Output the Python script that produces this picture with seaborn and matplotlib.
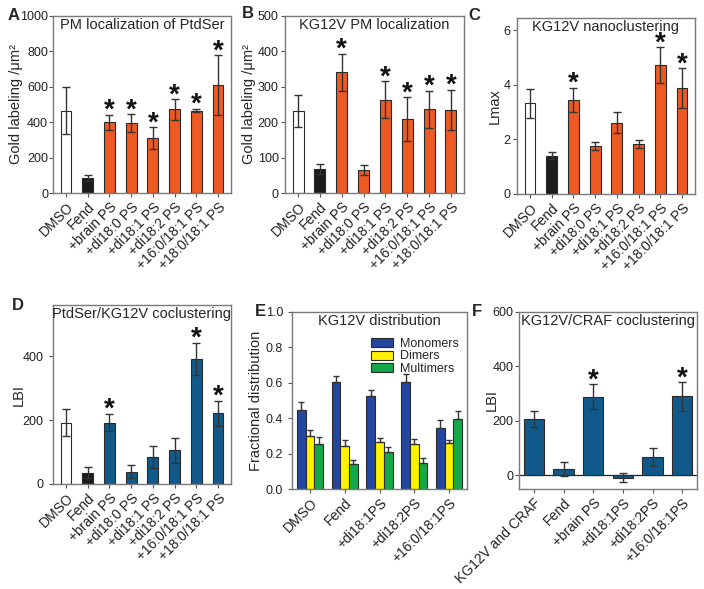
import numpy as np
import pandas as pd
import matplotlib
matplotlib.use("Agg")
import matplotlib.pyplot as plt
import seaborn as sns

# ---- data ----
ps_labels = ["DMSO", "Fend", "+brain PS", "+di18:0 PS", "+di18:1 PS",
             "+di18:2 PS", "+16:0/18:1 PS", "+18:0/18:1 PS"]

a_mean = [466, 85, 400, 394, 309, 472, 466, 611]
a_err = [135, 18, 43, 50, 63, 57, 11, 168]
a_sig = [0, 0, 1, 1, 1, 1, 1, 1]

b_mean = [231, 69, 341, 66, 264, 208, 236, 234]
b_err = [45, 14, 52, 14, 51, 62, 52, 57]
b_sig = [0, 0, 1, 0, 1, 1, 1, 1]

c_mean = [3.32, 1.40, 3.44, 1.76, 2.61, 1.82, 4.72, 3.88]
c_err = [0.53, 0.13, 0.45, 0.15, 0.38, 0.15, 0.66, 0.72]
c_sig = [0, 0, 1, 0, 0, 0, 1, 1]

d_mean = [192, 35, 192, 39, 84, 105, 391, 221]
d_err = [42, 17, 27, 19, 35, 38, 50, 39]
d_sig = [0, 0, 1, 0, 0, 0, 1, 1]

e_labels = ["DMSO", "Fend", "+di18:1PS", "+di18:2PS", "+16:0/18:1PS"]
e_species = ["Monomers", "Dimers", "Multimers"]
e_mono = [0.444, 0.607, 0.524, 0.603, 0.347]
e_mono_err = [0.050, 0.034, 0.034, 0.044, 0.042]
e_di = [0.302, 0.245, 0.268, 0.254, 0.262]
e_di_err = [0.034, 0.034, 0.019, 0.030, 0.017]
e_multi = [0.256, 0.139, 0.211, 0.146, 0.395]
e_multi_err = [0.040, 0.024, 0.028, 0.030, 0.045]

f_labels = ["KG12V and CRAF", "Fend", "+brain PS", "+di18:1PS",
            "+di18:2PS", "+16:0/18:1PS"]
f_mean = [207, 23, 288, -9, 67, 290]
f_err = [28, 25, 46, 17, 32, 52]
f_sig = [0, 0, 1, 0, 0, 1]

# ---- style ----
sns.set_theme(style="white")
plt.rcParams["font.family"] = ["Liberation Sans", "DejaVu Sans"]
plt.rcParams["axes.edgecolor"] = "#7a7a7a"
plt.rcParams["xtick.color"] = "#555555"
plt.rcParams["ytick.color"] = "#555555"
plt.rcParams["xtick.labelcolor"] = "#222222"
plt.rcParams["ytick.labelcolor"] = "#222222"

ORANGE = "#EE5A24"
BLUE = "#11598A"
EDGE = "#2a2a2a"
ERR = "#333333"
W, H = 704, 589

fig = plt.figure(figsize=(W / 100, H / 100), dpi=100)


def px_axes(left, top, right, bottom):
    # axes from pixel box (top-left origin)
    return fig.add_axes([left / W, 1 - bottom / H, (right - left) / W,
                         (bottom - top) / H])


def style_axes(ax, labels, ypad, label_x):
    ax.tick_params(axis="both", direction="out", length=3, width=0.8,
                   bottom=True, left=True)
    ax.tick_params(axis="y", pad=ypad, labelsize=9)
    ax.tick_params(axis="x", pad=2)
    ax.set_xticks(range(len(labels)))
    ax.set_xticklabels(labels, rotation=45, ha="right",
                       rotation_mode="anchor", fontsize=10)
    ax.set_xlabel("")
    for s in ax.spines.values():
        s.set_linewidth(1.0)
        s.set_color("#7a7a7a")
    # place the y label centre at a given pixel column
    x0 = ax.get_position().x0 * W
    wd = ax.get_position().width * W
    ax.yaxis.set_label_coords((label_x + 7 - x0) / wd, 0.5)


def add_stars(ax, xs, mean, err, sig):
    for x, m, e, s in zip(xs, mean, err, sig):
        if s:
            ax.annotate("*", (x, m + e), xytext=(0, -6.5),
                        textcoords="offset points", ha="center", va="bottom",
                        fontsize=20, fontweight="bold", color="#111111")


def simple_panel(box, labels, mean, err, sig, pal, title, ylabel,
                 ylim, yticks, ypad, label_x, width=0.5, xpad=0.6):
    ax = px_axes(*box)
    df = pd.DataFrame({"cond": labels, "val": mean})
    sns.barplot(data=df, x="cond", y="val", hue="cond", palette=pal,
                legend=False, width=width, edgecolor=EDGE, linewidth=0.8,
                saturation=1, errorbar=None, ax=ax)
    xs = [p.get_x() + p.get_width() / 2 for c in ax.containers for p in c]
    ax.errorbar(xs, mean, yerr=err, fmt="none", ecolor=ERR, elinewidth=1.0,
                capsize=2.7, capthick=1.0)
    add_stars(ax, xs, mean, err, sig)
    ax.set_ylim(*ylim)
    ax.set_yticks(yticks)
    ax.set_xlim(-xpad, len(labels) - 1 + xpad)
    ax.set_ylabel(ylabel, fontsize=10.5)
    ax.text(0.5, 0.99, title, transform=ax.transAxes, ha="center", va="top",
            fontsize=10.5)
    style_axes(ax, labels, ypad, label_x)
    return ax


pal_orange = ["white", "#1c1c1c"] + [ORANGE] * 6
pal_blue = ["white", "#1c1c1c"] + [BLUE] * 6

# A
simple_panel((53, 16, 231, 193), ps_labels, a_mean, a_err, a_sig,
             pal_orange, "PM localization of PtdSer", "Gold labeling /\u03bcm\u00b2",
             (0, 1000), [0, 200, 400, 600, 800, 1000], 0.5, 16)
# B
simple_panel((285, 16, 464, 193), ps_labels, b_mean, b_err, b_sig,
             pal_orange, "KG12V PM localization", "Gold labeling /\u03bcm\u00b2",
             (0, 500), [0, 100, 200, 300, 400, 500], 1.5, 249)
# C
simple_panel((517, 18, 695, 194), ps_labels, c_mean, c_err, c_sig,
             pal_orange, "KG12V nanoclustering", "Lmax",
             (0, 6.45), [0, 2, 4, 6], 1.5, 495)
# D
simple_panel((53, 305, 231, 484), ps_labels, d_mean, d_err, d_sig,
             pal_blue, "PtdSer/KG12V coclustering", "LBI",
             (0, 560), [0, 200, 400], 4, 19)

# E grouped bars
axE = px_axes(292, 312, 467, 489)
e_df = pd.DataFrame({
    "cond": e_labels * 3,
    "species": [s for s in e_species for _ in e_labels],
    "val": e_mono + e_di + e_multi,
})
sns.barplot(data=e_df, x="cond", y="val", hue="species",
            palette=["#2347A0", "#FFF200", "#14A84A"], width=0.75,
            edgecolor=EDGE, linewidth=0.8, saturation=1, errorbar=None, ax=axE)
for cont, err in zip(list(axE.containers), [e_mono_err, e_di_err, e_multi_err]):
    xs = [p.get_x() + p.get_width() / 2 for p in cont]
    hs = [p.get_height() for p in cont]
    axE.errorbar(xs, hs, yerr=[[0] * len(err), err], fmt="none", ecolor=ERR,
                 elinewidth=1.0, capsize=2.5, capthick=1.0)
axE.set_ylim(0, 1.0)
axE.set_yticks([0, 0.2, 0.4, 0.6, 0.8, 1.0])
axE.set_yticklabels(["0.0", "0.2", "0.4", "0.6", "0.8", "1.0"])
axE.set_xlim(-0.52, len(e_labels) - 0.48)
axE.set_ylabel("Fractional distribution", fontsize=10.5)
axE.text(0.5, 0.99, "KG12V distribution", transform=axE.transAxes,
         ha="center", va="top", fontsize=10.5)
axE.legend(loc="upper right", bbox_to_anchor=(1.0, 0.9), frameon=False,
           fontsize=9, handlelength=1.7, handleheight=0.75, labelspacing=0.05,
           handletextpad=0.6, borderaxespad=0.25)
style_axes(axE, e_labels, 3.5, 256)

# F
axF = simple_panel((519, 312, 697, 489), f_labels, f_mean, f_err,
                   f_sig, [BLUE] * 6, "KG12V/CRAF coclustering", "LBI",
                   (-50, 600), [0, 200, 400, 600], 1.0, 492,
                   width=0.68, xpad=0.5)
axF.axhline(0, color="#222222", lw=0.9, zorder=0.5)

# panel letters
for letter, x, y in [("A", 8, 15), ("B", 242, 14), ("C", 468, 16),
                     ("D", 12, 305), ("E", 255, 312), ("F", 472, 312)]:
    fig.text(x / W, 1 - y / H, letter, fontsize=12, fontweight="bold",
             ha="left", va="center")

fig.savefig("out.png", dpi=100)
